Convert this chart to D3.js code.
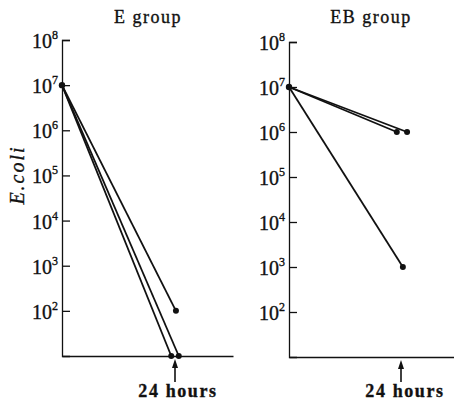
<!DOCTYPE html>
<html>
<head>
<meta charset="utf-8">
<script src="https://cdn.jsdelivr.net/npm/d3@7/dist/d3.min.js"></script>
<style>
  body { margin: 0; background: #fff; }
  svg { display: block; }
  text { font-family: "Liberation Serif", "DejaVu Serif", serif; fill: #111; stroke: #111; stroke-width: 0.35px; }
</style>
</head>
<body>
<svg id="chart" width="454" height="400"></svg>
<script>
// ---- data ----
const panelTitles = ["E group", "EB group"];
const tickExponents = [2, 3, 4, 5, 6, 7, 8];
const startHour = 0;
const startValue = 1e7;
const markerHour = 24;
const markerLabel = "24 hours";
const yLabel = "E.coli";
// end points (hours slightly offset as in the original to separate dots)
const eEndHours = [24.2, 23.2, 24.8];
const eEndValues = [1e2, 1e1, 1e1];
const ebEndHours = [23.1, 25.3, 24.4];
const ebEndValues = [1e6, 1e6, 1e3];

const panels = [
  { title: panelTitles[0], endH: eEndHours, endV: eEndValues,
    x0: 62, x24: 175, xEnd: 233, yTop: 40, yBot: 356, titleX: 148, labelX: 178 },
  { title: panelTitles[1], endH: ebEndHours, endV: ebEndValues,
    x0: 289, x24: 401, xEnd: 454, yTop: 42, yBot: 357, titleX: 371, labelX: 405 }
];

const svg = d3.select("#chart");

panels.forEach((p, i) => {
  const x = d3.scaleLinear().domain([0, markerHour]).range([p.x0, p.x24]);
  const y = d3.scaleLog().domain([1e1, 1e8]).range([p.yBot, p.yTop]);
  const g = svg.append("g");

  // title
  g.append("text").attr("x", p.titleX).attr("y", 23)
    .attr("text-anchor", "middle").style("font-size", "18px")
    .style("letter-spacing", "1.5px").text(p.title);

  // y axis
  const yAxis = d3.axisLeft(y)
    .tickValues(tickExponents.map(e => Math.pow(10, e)))
    .tickSizeInner(-8).tickSizeOuter(-8).tickPadding(0)
    .tickFormat(() => "");
  const ya = g.append("g").attr("transform", `translate(${p.x0},0)`).call(yAxis);
  ya.selectAll("path, line").attr("stroke", "#111").attr("stroke-width", 1.3);
  ya.selectAll(".tick text").remove();

  // tick labels with superscript
  tickExponents.forEach(e => {
    const t = g.append("text").attr("x", p.x0 - 4).attr("y", y(Math.pow(10, e)) + 8)
      .attr("text-anchor", "end").style("font-size", "20px");
    t.append("tspan").text("10");
    t.append("tspan").attr("dy", -9).style("font-size", "12px").text(String(e));
  });

  // x axis line
  const xAxisScale = x.copy().domain([0, x.invert(p.xEnd)]).range([p.x0, p.xEnd]);
  const xa = g.append("g").attr("transform", `translate(0,${p.yBot})`)
    .call(d3.axisBottom(xAxisScale).tickValues([]).tickSizeOuter(0));
  xa.select("path").attr("stroke", "#111").attr("stroke-width", 1.3);

  // lines & end dots
  p.endH.forEach((h, k) => {
    const v = p.endV[k];
    g.append("line")
      .attr("x1", x(startHour)).attr("y1", y(startValue))
      .attr("x2", x(h)).attr("y2", y(v))
      .attr("stroke", "#111").attr("stroke-width", 1.8);
    g.append("circle").attr("cx", x(h)).attr("cy", y(v)).attr("r", 3).attr("fill", "#111");
  });
  g.append("circle").attr("cx", x(startHour)).attr("cy", y(startValue)).attr("r", 3.2).attr("fill", "#111");

  // 24 hours arrow
  const ax = x(markerHour), tip = p.yBot + 3;
  g.append("line")
    .attr("x1", ax).attr("x2", ax).attr("y1", 382).attr("y2", tip + 6)
    .attr("stroke", "#111").attr("stroke-width", 1.6);
  g.append("path")
    .attr("d", `M${ax},${tip} L${ax - 3},${tip + 9} L${ax + 3},${tip + 9} Z`)
    .attr("fill", "#111");
  g.append("text").attr("x", p.labelX).attr("y", 397)
    .attr("text-anchor", "middle").style("font-size", "18px")
    .style("font-weight", "bold")
    .style("letter-spacing", "1.6px").text(markerLabel);
});

// y label
svg.append("text")
  .attr("transform", "translate(24,175) rotate(-90)")
  .attr("text-anchor", "middle")
  .style("font-size", "20px").style("font-style", "italic")
  .style("letter-spacing", "2px")
  .text(yLabel);
</script>
</body>
</html>
